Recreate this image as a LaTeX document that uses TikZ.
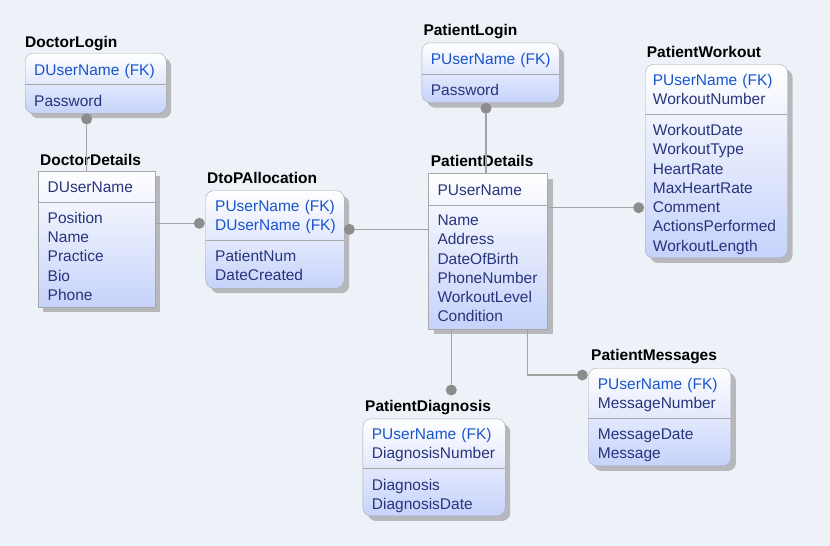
\documentclass[tikz,border=0pt]{standalone}
\usepackage{fontspec}
\setmainfont{Liberation Sans}
\usetikzlibrary{shadows}
\definecolor{bgblue}{RGB}{237,242,249}
\definecolor{boxblue}{RGB}{198,210,250}
\definecolor{boxline}{RGB}{168,168,168}
\definecolor{fkblue}{RGB}{24,84,204}
\definecolor{attrblue}{RGB}{40,52,124}
\definecolor{relgray}{RGB}{162,162,162}
\definecolor{dotgray}{RGB}{140,140,140}
\begin{document}
\begin{tikzpicture}[x=1pt, y=-1pt,
    entity/.style={draw=boxline, top color=white, bottom color=boxblue, rounded corners=8pt,
      anchor=north west, inner sep=0pt,
      drop shadow={shadow xshift=5pt, shadow yshift=-5pt, fill=black!50, opacity=0.5}},
    indep/.style={entity, sharp corners},
    etitle/.style={anchor=base west, inner sep=0pt, font=\fontsize{15.5}{19}\selectfont\bfseries},
    rows/.style={anchor=base west, inner sep=0pt, text=attrblue, align=left, text width=150pt,
      font=\fontsize{15.5}{19.25}\selectfont},
    divider/.style={draw=boxline},
    rel/.style={draw=relgray, line width=1.5pt},
    dot/.style={circle, fill=dotgray, inner sep=0pt, minimum size=11pt}]
  \fill[bgblue] (0,0) rectangle (830,546);

  % DoctorLogin
  \node[etitle] (dlT) at (25,47) {DoctorLogin};
  \node[entity, minimum width=141, minimum height=60] (dl) at (25,53) {};
  \draw[divider] (25,84) -- (166,84);
  \node[rows] (dlK) at (34,75) {\textcolor{fkblue}{DUserName (FK)}};
  \node[rows] (dlA) at (34,106) {Password};

  % DoctorDetails
  \node[etitle] (ddT) at (40,165) {DoctorDetails};
  \node[indep, minimum width=117, minimum height=136] (dd) at (38,171) {};
  \draw[divider] (38,202) -- (155,202);
  \node[rows] (ddK) at (47.5,192) {DUserName};
  \node[rows] (ddA) at (47.5,223.3) {Position\\Name\\Practice\\Bio\\Phone};

  % DtoPAllocation
  \node[etitle] (daT) at (207,183.5) {DtoPAllocation};
  \node[entity, minimum width=138.5, minimum height=97.5] (da) at (205.5,190.5) {};
  \draw[divider] (205.5,240.5) -- (344,240.5);
  \node[rows] (daK) at (215,211.7) {\textcolor{fkblue}{PUserName (FK)}\\\textcolor{fkblue}{DUserName (FK)}};
  \node[rows] (daA) at (215,261.7) {PatientNum\\DateCreated};

  % PatientLogin
  \node[etitle] (plT) at (423.3,35.7) {PatientLogin};
  \node[entity, minimum width=137.3, minimum height=59.6] (pl) at (421.7,42.7) {};
  \draw[divider] (421.7,73.7) -- (559,73.7);
  \node[rows] (plK) at (430.7,64.3) {\textcolor{fkblue}{PUserName (FK)}};
  \node[rows] (plA) at (430.7,95) {Password};

  % PatientDetails
  \node[etitle] (pdT) at (430.7,166.7) {PatientDetails};
  \node[indep, minimum width=119, minimum height=155.7] (pd) at (428.3,173.3) {};
  \draw[divider] (428.3,204.7) -- (547.3,204.7);
  \node[rows] (pdK) at (437.3,195) {PUserName};
  \node[rows] (pdA) at (437.3,225.7) {Name\\Address\\DateOfBirth\\PhoneNumber\\WorkoutLevel\\Condition};

  % PatientWorkout
  \node[etitle] (pwT) at (646.7,57.7) {PatientWorkout};
  \node[entity, minimum width=142.3, minimum height=193.4] (pw) at (645,64.3) {};
  \draw[divider] (645,114.3) -- (787.3,114.3);
  \node[rows] (pwK) at (652.7,85) {\textcolor{fkblue}{PUserName (FK)}\\WorkoutNumber};
  \node[rows] (pwA) at (652.7,135.7) {WorkoutDate\\WorkoutType\\HeartRate\\MaxHeartRate\\Comment\\ActionsPerformed\\WorkoutLength};

  % PatientDiagnosis
  \node[etitle] (pgT) at (365,411.7) {PatientDiagnosis};
  \node[entity, minimum width=142.3, minimum height=97] (pg) at (362.7,418.7) {};
  \draw[divider] (362.7,468.3) -- (505,468.3);
  \node[rows] (pgK) at (371.7,439) {\textcolor{fkblue}{PUserName (FK)}\\DiagnosisNumber};
  \node[rows] (pgA) at (371.7,490) {Diagnosis\\DiagnosisDate};

  % PatientMessages
  \node[etitle] (pmT) at (591,360.7) {PatientMessages};
  \node[entity, minimum width=142.4, minimum height=97.7] (pm) at (588.3,368) {};
  \draw[divider] (588.3,418.3) -- (730.7,418.3);
  \node[rows] (pmK) at (597.7,389.3) {\textcolor{fkblue}{PUserName (FK)}\\MessageNumber};
  \node[rows] (pmA) at (597.7,439.3) {MessageDate\\Message};

  % relationships
  \node[dot] (r1) at (86.7,119) {};
  \node[dot] (r2) at (199.3,223.3) {};
  \node[dot] (r3) at (349.3,229.3) {};
  \node[dot] (r4) at (486,108.3) {};
  \node[dot] (r5) at (638.7,207.7) {};
  \node[dot] (r6) at (451.3,390) {};
  \node[dot] (r7) at (582.3,375) {};
  \coordinate (pdm) at (527.7,329);
  \draw[rel] (r1) -- (r1 |- dd.north);
  \draw[rel] (r2) -- (r2 -| dd.east);
  \draw[rel] (r3) -- (r3 -| pd.west);
  \draw[rel] (r4) -- (r4 |- pd.north);
  \draw[rel] (r5) -- (r5 -| pd.east);
  \draw[rel] (r6) -- (r6 |- pd.south);
  \draw[rel] (r7) -| (pdm);
\end{tikzpicture}
\end{document}
